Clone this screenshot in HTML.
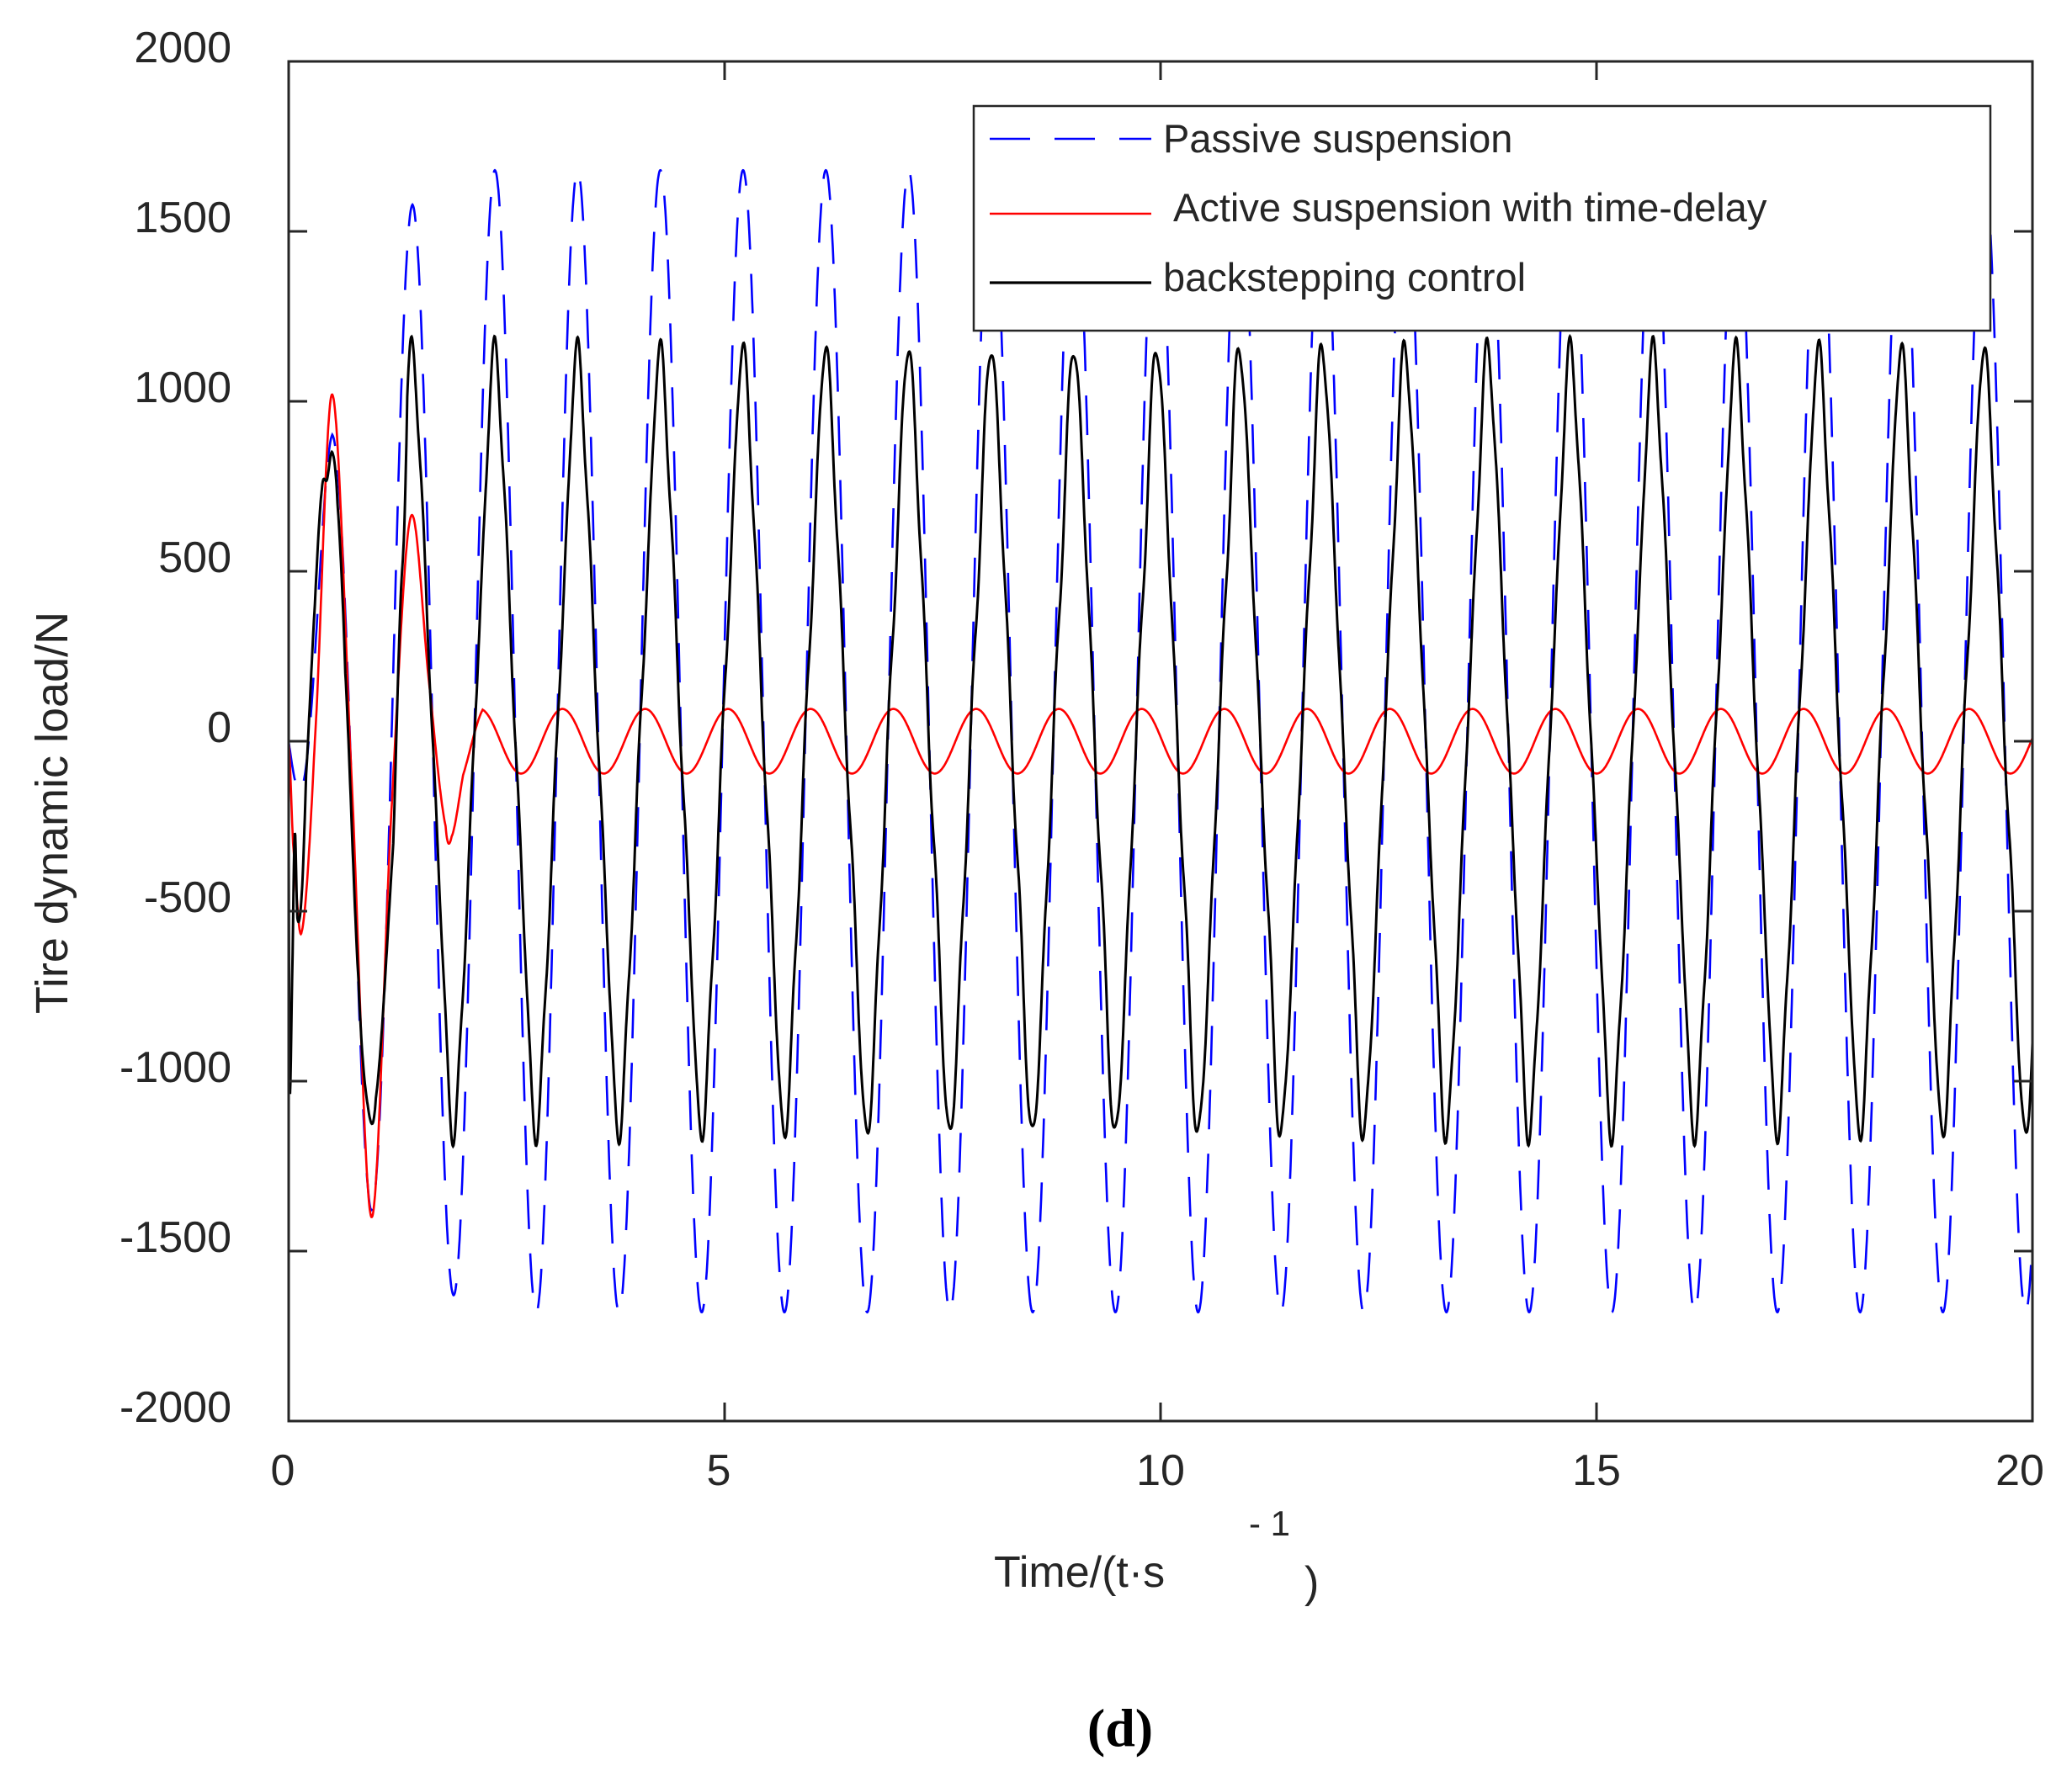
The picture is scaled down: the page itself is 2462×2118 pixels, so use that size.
<!DOCTYPE html>
<html><head><meta charset="utf-8"><style>
html,body{margin:0;padding:0;background:#fff;}
svg{display:block;}
text{font-family:"Liberation Sans",Arial,sans-serif;fill:#262626;}
</style></head><body>
<svg id="s" width="2462" height="2118" viewBox="0 0 2462 2118" xmlns="http://www.w3.org/2000/svg">
<defs><clipPath id="c"><rect x="343" y="73" width="2072" height="1616"/></clipPath></defs>
<g id="series" clip-path="url(#c)">
<path id="pb" fill="none" stroke="#0000ff" stroke-width="2.6" stroke-dasharray="47 29"/>
<path id="pr" fill="none" stroke="#ff0000" stroke-width="2.6"/>
<path id="pk" fill="none" stroke="#000" stroke-width="3"/>
</g>
<rect x="343" y="73" width="2072" height="1616" fill="none" stroke="#262626" stroke-width="3"/>
<g id="ticks" stroke="#262626" stroke-width="3"></g>
<g font-size="52" text-anchor="end">
<text x="275" y="74">2000</text>
<text x="275" y="276">1500</text>
<text x="275" y="478">1000</text>
<text x="275" y="680">500</text>
<text x="275" y="882">0</text>
<text x="275" y="1084">-500</text>
<text x="275" y="1286">-1000</text>
<text x="275" y="1488">-1500</text>
<text x="275" y="1690">-2000</text>
</g>
<g font-size="52" text-anchor="middle">
<text x="336" y="1765">0</text>
<text x="854" y="1765">5</text>
<text x="1379" y="1765">10</text>
<text x="1897" y="1765">15</text>
<text x="2400" y="1765">20</text>
</g>
<text x="1181" y="1886" font-size="52">Time/(t·s</text>
<text x="1484" y="1825" font-size="42">- 1</text>
<text x="1550" y="1898" font-size="52">)</text>
<text transform="translate(80,966) rotate(-90)" font-size="54" text-anchor="middle">Tire dynamic load/N</text>
<text x="1331" y="2075" font-size="64" font-weight="bold" text-anchor="middle" style="font-family:'Liberation Serif',serif;fill:#000">(d)</text>
<rect x="1157" y="126" width="1208" height="267" fill="#fff" stroke="#262626" stroke-width="2.5"/>
<line x1="1176" y1="165" x2="1368" y2="165" stroke="#0000ff" stroke-width="2.6" stroke-dasharray="48 29"/>
<line x1="1176" y1="254" x2="1368" y2="254" stroke="#ff0000" stroke-width="2.6"/>
<line x1="1176" y1="336" x2="1368" y2="336" stroke="#000" stroke-width="3.2"/>
<g font-size="47" style="fill:#000">
<text x="1382" y="181">Passive suspension</text>
<text x="1394" y="263">Active suspension with time-delay</text>
<text x="1382" y="346">backstepping control</text>
</g>
</svg>
<script>
(function(){
var X=function(t){return 343+t*103.6;}, Y=function(v){return 881-v*0.404;};
var T=0.949, t0=2.365;
function interp(pts,t){
  for(var i=0;i<pts.length-1;i++){
    if(t>=pts[i][0]&&t<=pts[i+1][0]){
      var p0=pts[Math.max(0,i-1)],p1=pts[i],p2=pts[i+1],p3=pts[Math.min(pts.length-1,i+2)];
      var u=(t-p1[0])/(p2[0]-p1[0]);
      var m1=(p2[1]-p0[1])/2,m2=(p3[1]-p1[1])/2;
      var u2=u*u,u3=u2*u;
      return (2*u3-3*u2+1)*p1[1]+(u3-2*u2+u)*m1+(-2*u3+3*u2)*p2[1]+(u3-u2)*m2;
    }
  }
  return pts[pts.length-1][1];
}
var envP=[[0,0],[0.5,0.55],[0.94,0.82],[1.42,0.94],[2.36,1],[30,1]];
function lin(pts,t){for(var i=0;i<pts.length-1;i++){if(t<=pts[i+1][0]){var u=(t-pts[i][0])/(pts[i+1][0]-pts[i][0]);return pts[i][1]+u*(pts[i+1][1]-pts[i][1]);}}return 1;}
var redP=[[0,0],[0.05,-300],[0.15,-560],[0.3,0],[0.5,1020],[0.72,-100],[0.95,-1400],[1.18,-200],[1.4,660],[1.62,150],[1.8,-250],[1.87,-280],[2.0,-100],[2.23,95]];
var blkP=[[0,-300],[0.01,-1030],[0.04,-700],[0.07,-270],[0.1,-520],[0.15,-450],[0.2,-100],[0.3,400],[0.38,740],[0.44,770],[0.5,850],[0.56,700],[0.65,200],[0.8,-700],[0.9,-1060],[1.0,-1050],[1.2,-300],[1.3,500]];
var b='',r='',k='';
for(var i=0;i<=4000;i++){
  var t=i*0.005, ph=2*Math.PI*(t-t0)/T;
  var vb=1680*lin(envP,t)*Math.cos(ph);
  var vr=t<2.23?interp(redP,t):95*Math.cos(2*Math.PI*(t-3.14)/T);
  var per=1050*Math.cos(ph)+90*Math.cos(3*ph)+30*Math.sin(2*Math.PI*7.3*t)+25*Math.cos(5*ph+0.6);
  var vk;
  if(t<1.3) vk=interp(blkP,t);
  else if(t<1.36){var u=(t-1.3)/0.06; vk=(1-u)*interp(blkP,1.3)+u*per;}
  else vk=per;
  var c=(i?'L':'M');
  b+=c+X(t).toFixed(1)+' '+Y(vb).toFixed(1);
  r+=c+X(t).toFixed(1)+' '+Y(vr).toFixed(1);
  k+=c+X(t).toFixed(1)+' '+Y(vk).toFixed(1);
}
document.getElementById('pb').setAttribute('d',b);
document.getElementById('pr').setAttribute('d',r);
document.getElementById('pk').setAttribute('d',k);
var g=document.getElementById('ticks'),s='';
for(var j=0;j<=8;j++){var y=73+j*202;s+='<line x1="343" y1="'+y+'" x2="365" y2="'+y+'"/><line x1="2393" y1="'+y+'" x2="2415" y2="'+y+'"/>';}
for(var j=0;j<=4;j++){var x=343+j*518;s+='<line x1="'+x+'" y1="1689" x2="'+x+'" y2="1667"/><line x1="'+x+'" y1="73" x2="'+x+'" y2="95"/>';}
g.innerHTML=s;
})();
</script>
</body></html>
